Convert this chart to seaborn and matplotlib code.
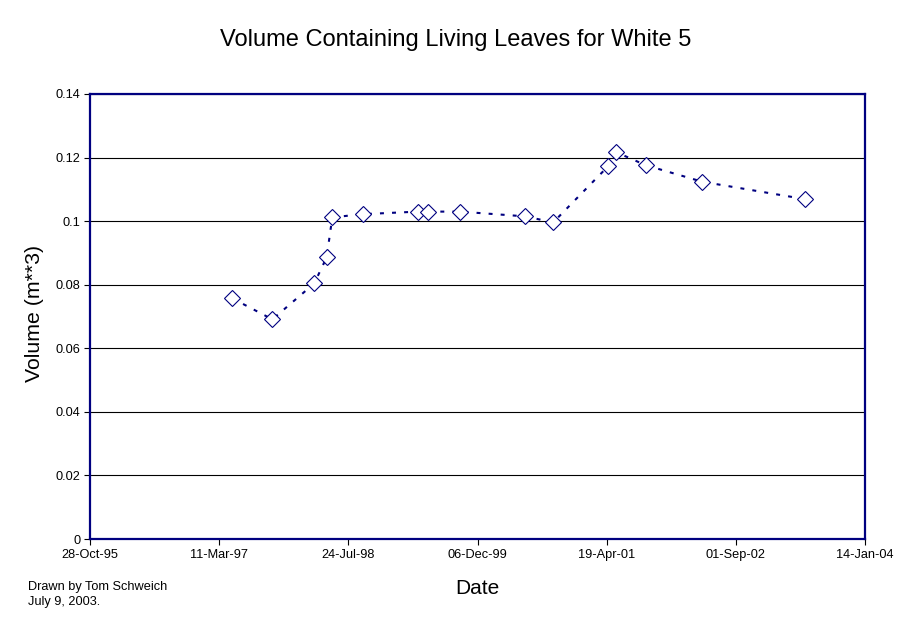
import pandas as pd
import matplotlib
matplotlib.use('Agg')
import matplotlib.pyplot as plt
import matplotlib.dates as mdates
import seaborn as sns

dates = ['1997-05-01', '1997-10-03', '1998-03-14', '1998-05-01', '1998-05-23',
         '1998-09-19', '1999-04-21', '1999-05-30', '1999-09-29', '2000-06-08',
         '2000-09-24', '2001-04-25', '2001-05-26', '2001-09-17', '2002-04-24',
         '2003-05-28']
volume = [0.0757, 0.0691, 0.0804, 0.0886, 0.1012,
          0.1022, 0.1030, 0.1030, 0.1030, 0.1015,
          0.0996, 0.1173, 0.1217, 0.1176, 0.1124,
          0.1069]

y_ticks = [0, 0.02, 0.04, 0.06, 0.08, 0.1, 0.12, 0.14]
y_tick_labels = ['0', '0.02', '0.04', '0.06', '0.08', '0.1', '0.12', '0.14']

df = pd.DataFrame({'date': pd.to_datetime(dates), 'volume': volume})

sns.set_style('white')
plt.rcParams['font.family'] = ['Liberation Sans', 'DejaVu Sans']
plt.rcParams['text.color'] = 'black'
plt.rcParams['axes.labelcolor'] = 'black'
plt.rcParams['xtick.color'] = 'black'
plt.rcParams['ytick.color'] = 'black'

navy = '#000080'

fig = plt.figure(figsize=(9.11, 6.23), dpi=100)
ax = fig.add_axes([90 / 911, 1 - 539 / 623, 775 / 911, 445 / 623])

sns.lineplot(data=df, x='date', y='volume', ax=ax, sort=False, estimator=None,
             color=navy, linewidth=1.5, linestyle=(0, (1.9, 3.9)),
             marker='D', markersize=8.5, markerfacecolor='white',
             markeredgecolor=navy, markeredgewidth=0.8, zorder=3)

# x axis: Excel style, a tick every 500 days
x_ticks = pd.date_range('1995-10-28', periods=7, freq='500D')
ax.set_xlim(x_ticks[0], x_ticks[-1])
ax.set_xticks(x_ticks)
ax.xaxis.set_major_formatter(mdates.DateFormatter('%d-%b-%y'))

ax.set_ylim(0, 0.14)
ax.set_yticks(y_ticks)
ax.set_yticklabels(y_tick_labels)

ax.yaxis.grid(True, color='black', linewidth=0.8)
ax.xaxis.grid(False)
ax.set_axisbelow(True)

for side in ax.spines.values():
    side.set_visible(True)
    side.set_color(navy)
    side.set_linewidth(1.6)

ax.tick_params(axis='both', direction='out', length=4, width=0.8,
               color='black', labelcolor='black', labelsize=9.2, pad=3,
               bottom=True, left=True)

ax.set_xlabel('')
ax.set_ylabel('')
fig.text(477.5 / 911, 1 - 589 / 623, 'Date', ha='center', va='center',
         fontsize=15)
fig.text(35 / 911, 1 - 313 / 623, 'Volume (m**3)', ha='center', va='center',
         rotation=90, fontsize=15.3)

fig.text(0.5, 1 - 40 / 623, 'Volume Containing Living Leaves for White 5',
         ha='center', va='center', fontsize=17)
fig.text(28 / 911, 1 - 594.5 / 623, 'Drawn by Tom Schweich\nJuly 9, 2003.',
         ha='left', va='center', fontsize=9.2, linespacing=1.4)

fig.savefig('out.png', dpi=100)
